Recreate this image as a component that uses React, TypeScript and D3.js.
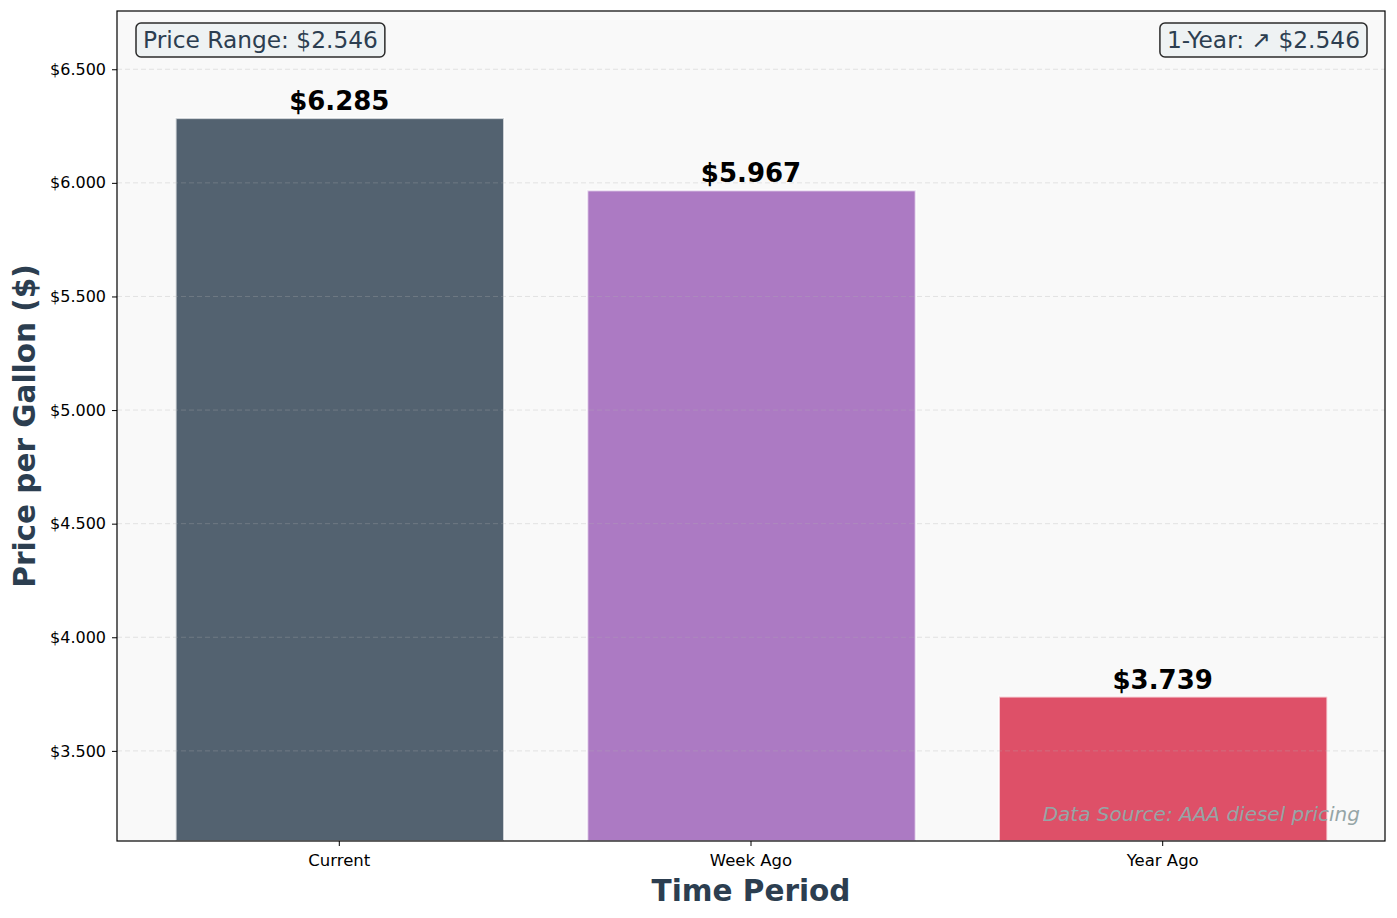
import * as d3 from "d3";
import { useEffect, useRef } from "react";

const categories = ["Current", "Week Ago", "Year Ago"];
const prices = [6.285, 5.967, 3.739];
const barColors = ["#536270", "#ac7ac3", "#de5068"];
const yTicks = [3.5, 4.0, 4.5, 5.0, 5.5, 6.0, 6.5];
const rangeLabel = "Price Range: $2.546";
const changeLabel = "1-Year: \u2197 $2.546";
const sourceLabel = "Data Source: AAA diesel pricing";

const width = 1397;
const height = 918;
const margin = { top: 11, right: 12, bottom: 77, left: 117 };
const font = "'DejaVu Sans', sans-serif";

export default function App() {
  const svgRef = useRef<SVGSVGElement>(null);

  useEffect(() => {
    if (!svgRef.current) return;
    const svg = d3.select(svgRef.current);
    svg.selectAll("*").remove();

    const x0 = margin.left;
    const x1 = width - margin.right;
    const y0 = height - margin.bottom;
    const y1 = margin.top;

    const x = d3
      .scaleBand<string>()
      .domain(categories)
      .range([x0, x1])
      .paddingInner(0.2)
      .paddingOuter(0.14);
    const y = d3
      .scaleLinear()
      .domain([d3.min(prices)! * 0.83, d3.max(prices)! * 1.075])
      .range([y0, y1]);

    // plot background
    svg
      .append("rect")
      .attr("x", x0)
      .attr("y", y1)
      .attr("width", x1 - x0)
      .attr("height", y0 - y1)
      .attr("fill", "#f9f9f9");

    // bars
    svg
      .append("g")
      .selectAll("rect")
      .data(prices)
      .join("rect")
      .attr("x", (_, i) => x(categories[i])! + 1)
      .attr("y", (d) => y(d))
      .attr("width", x.bandwidth() - 1)
      .attr("height", (d) => y0 - y(d))
      .attr("fill", (_, i) => barColors[i])
      .attr("stroke", "#ffffff")
      .attr("stroke-opacity", 0.7)
      .attr("stroke-width", 2);

    // grid (drawn over bars)
    svg
      .append("g")
      .selectAll("line")
      .data(yTicks)
      .join("line")
      .attr("x1", x0)
      .attr("x2", x1)
      .attr("y1", (d) => y(d))
      .attr("y2", (d) => y(d))
      .attr("stroke", "#b0b0b0")
      .attr("stroke-opacity", 0.3)
      .attr("stroke-dasharray", "5,3")
      .attr("stroke-width", 1);

    // value labels
    svg
      .append("g")
      .selectAll("text")
      .data(prices)
      .join("text")
      .attr("x", (_, i) => x(categories[i])! + x.bandwidth() / 2)
      .attr("y", (d) => y(d) - 8)
      .attr("text-anchor", "middle")
      .attr("font-family", font)
      .attr("font-weight", "bold")
      .attr("font-size", 26)
      .attr("fill", "#000")
      .text((d) => `$${d.toFixed(3)}`);

    // frame
    svg
      .append("rect")
      .attr("x", x0)
      .attr("y", y1)
      .attr("width", x1 - x0)
      .attr("height", y0 - y1)
      .attr("fill", "none")
      .attr("stroke", "#000")
      .attr("stroke-width", 1.2);

    // y axis
    const yAxis = d3
      .axisLeft(y)
      .tickValues(yTicks)
      .tickSize(5)
      .tickPadding(6)
      .tickFormat((d) => `$${(+d).toFixed(3)}`);
    svg
      .append("g")
      .attr("transform", `translate(${x0},0)`)
      .call(yAxis)
      .call((g) => g.select(".domain").remove())
      .call((g) =>
        g
          .selectAll("text")
          .attr("font-family", font)
          .attr("font-size", 16)
          .attr("fill", "#000")
      );

    // x axis
    const xAxis = d3.axisBottom(x).tickSize(5).tickPadding(8);
    svg
      .append("g")
      .attr("transform", `translate(0,${y0})`)
      .call(xAxis)
      .call((g) => g.select(".domain").remove())
      .call((g) =>
        g
          .selectAll("text")
          .attr("font-family", font)
          .attr("font-size", 16.5)
          .attr("fill", "#000")
      );

    // axis titles
    svg
      .append("text")
      .attr("x", (x0 + x1) / 2)
      .attr("y", 901)
      .attr("text-anchor", "middle")
      .attr("font-family", font)
      .attr("font-weight", "bold")
      .attr("font-size", 29.5)
      .attr("fill", "#2c3e50")
      .text("Time Period");
    svg
      .append("text")
      .attr("transform", `translate(35,${(y0 + y1) / 2}) rotate(-90)`)
      .attr("text-anchor", "middle")
      .attr("font-family", font)
      .attr("font-weight", "bold")
      .attr("font-size", 29.5)
      .attr("fill", "#2c3e50")
      .text("Price per Gallon ($)");

    // annotation boxes
    const box = (label: string, anchor: "start" | "end", ax: number) => {
      const g = svg.append("g");
      const t = g
        .append("text")
        .attr("x", ax)
        .attr("y", 48)
        .attr("text-anchor", anchor)
        .attr("font-family", font)
        .attr("font-size", 23.3)
        .attr("fill", "#2c3e50")
        .text(label);
      const bb = (t.node() as SVGTextElement).getBBox();
      g.insert("rect", "text")
        .attr("x", bb.x - 7)
        .attr("y", 23)
        .attr("width", bb.width + 14)
        .attr("height", 34)
        .attr("rx", 5)
        .attr("fill", "#eef2f3")
        .attr("stroke", "#2b2b2b")
        .attr("stroke-width", 1.5);
    };
    box(rangeLabel, "start", 143);
    box(changeLabel, "end", 1360);

    // source note
    svg
      .append("text")
      .attr("x", 1360)
      .attr("y", 821)
      .attr("text-anchor", "end")
      .attr("font-family", font)
      .attr("font-style", "italic")
      .attr("font-size", 20)
      .attr("fill", "#95a5a6")
      .text(sourceLabel);
  }, []);

  return (
    <svg
      ref={svgRef}
      width={width}
      height={height}
      style={{ position: "absolute", left: 0, top: 0, background: "#fff" }}
    />
  );
}
